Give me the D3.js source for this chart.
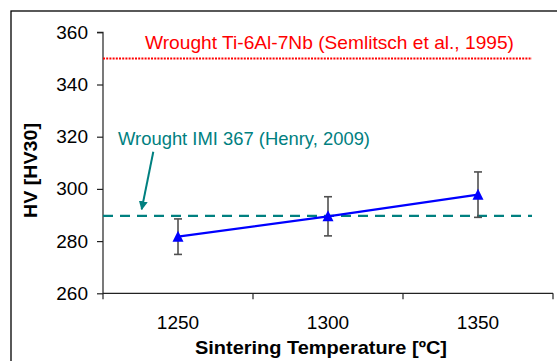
<!DOCTYPE html>
<html><head><meta charset="utf-8">
<script src="https://cdn.jsdelivr.net/npm/d3@7"></script>
<style>
html,body{margin:0;padding:0;background:#fff;}
text{font-family:"Liberation Sans",Arial,sans-serif;}
</style></head>
<body>
<svg id="chart" width="557" height="361"></svg>
<script>
// ---- data ----
const categories = ["1250", "1300", "1350"];
const hvMean = [281.7, 289.5, 297.8];
const hvErr = [6.8, 7.5, 8.7];
const yTicks = [260, 280, 300, 320, 340, 360];
const refTi = 350;      // Wrought Ti-6Al-7Nb (Semlitsch et al., 1995)
const refIMI = 289.7;   // Wrought IMI 367 (Henry, 2009)
const labelTi = "Wrought Ti-6Al-7Nb (Semlitsch et al., 1995)";
const labelIMI = "Wrought IMI 367 (Henry, 2009)";
const xTitle = "Sintering Temperature [ºC]";
const yTitle = "HV [HV30]";

// ---- layout ----
const L = 103, R = 553, T = 32.3, B = 293.3;
const svg = d3.select("#chart");

// outer frame
svg.append("rect").attr("x", 11).attr("y", 11).attr("width", 560).attr("height", 360)
  .attr("fill", "none").attr("stroke", "#000").attr("stroke-width", 1.3);

const x = d3.scaleBand().domain(categories).range([L, R]).padding(0);
const y = d3.scaleLinear().domain([260, 360]).range([B, T]);
const xc = c => x(c) + x.bandwidth() / 2;

// y axis
const yAxis = svg.append("g").attr("transform", `translate(${L},0)`)
  .call(d3.axisLeft(y).tickValues(yTicks).tickSize(6).tickPadding(9).tickFormat(d3.format("d")));
yAxis.select(".domain").attr("stroke", "#222").attr("stroke-width", 1.2).attr("d", `M-6,${T}H0V${B}`);
yAxis.selectAll(".tick line").attr("stroke", "#222").attr("stroke-width", 1.2);
yAxis.selectAll(".tick text").attr("font-size", 19).attr("fill", "#000")
  .style("font-family", "'Liberation Sans',Arial,sans-serif");

// x axis (category axis with ticks at band boundaries)
const xg = svg.append("g");
xg.append("line").attr("x1", L).attr("x2", R).attr("y1", B).attr("y2", B)
  .attr("stroke", "#222").attr("stroke-width", 1.2);
const bounds = categories.map(c => x(c)).concat([x(categories[categories.length - 1]) + x.bandwidth()]);
xg.selectAll("line.tk").data(bounds).enter().append("line").attr("class", "tk")
  .attr("x1", d => d).attr("x2", d => d).attr("y1", B).attr("y2", B + 6)
  .attr("stroke", "#222").attr("stroke-width", 1.2);
xg.selectAll("text").data(categories).enter().append("text")
  .attr("x", d => xc(d)).attr("y", 328.5).attr("text-anchor", "middle")
  .attr("font-size", 19).attr("fill", "#000").text(d => d);

// titles
svg.append("text").attr("x", 195).attr("y", 353.5)
  .attr("font-size", 19).attr("font-weight", "bold")
  .attr("textLength", 252).attr("lengthAdjust", "spacingAndGlyphs").text(xTitle);
svg.append("text").attr("transform", "translate(36.5,218) rotate(-90)")
  .attr("font-size", 19).attr("font-weight", "bold")
  .attr("textLength", 95).attr("lengthAdjust", "spacingAndGlyphs").text(yTitle);

// reference lines
const refEnd = L + x.bandwidth() * 2.86;
svg.append("line").attr("x1", L).attr("x2", refEnd).attr("y1", y(refTi)).attr("y2", y(refTi))
  .attr("stroke", "#ff0000").attr("stroke-width", 2).attr("stroke-dasharray", "2,1.2");
svg.append("line").attr("x1", L).attr("x2", refEnd).attr("y1", y(refIMI)).attr("y2", y(refIMI))
  .attr("stroke", "#008080").attr("stroke-width", 2.3).attr("stroke-dasharray", "10,7");

// reference labels
svg.append("text").attr("x", 145).attr("y", 48.5).attr("font-size", 18.5).attr("fill", "#ff0000")
  .attr("textLength", 369).attr("lengthAdjust", "spacingAndGlyphs").text(labelTi);
svg.append("text").attr("x", 118).attr("y", 144.5).attr("font-size", 18.5).attr("fill", "#008080")
  .attr("textLength", 252).attr("lengthAdjust", "spacingAndGlyphs").text(labelIMI);

// arrow
svg.append("defs").append("marker").attr("id", "ah").attr("viewBox", "0 0 10 10")
  .attr("refX", 9).attr("refY", 5).attr("markerWidth", 4.5).attr("markerHeight", 4.5)
  .attr("orient", "auto").attr("markerUnits", "strokeWidth")
  .append("path").attr("d", "M0,0L10,5L0,10z").attr("fill", "#008080");
svg.append("line").attr("x1", 153.3).attr("y1", 151.7).attr("x2", 141.7).attr("y2", 209.3)
  .attr("stroke", "#008080").attr("stroke-width", 2).attr("marker-end", "url(#ah)");

// error bars
const eg = svg.append("g").attr("stroke", "#505050").attr("stroke-width", 1.6);
categories.forEach((c, i) => {
  const cx = xc(c), hi = y(hvMean[i] + hvErr[i]), lo = y(hvMean[i] - hvErr[i]);
  eg.append("line").attr("x1", cx).attr("x2", cx).attr("y1", hi).attr("y2", lo);
  eg.append("line").attr("x1", cx - 4).attr("x2", cx + 4).attr("y1", hi).attr("y2", hi);
  eg.append("line").attr("x1", cx - 4).attr("x2", cx + 4).attr("y1", lo).attr("y2", lo);
});

// series line
const pts = categories.map((c, i) => [xc(c), y(hvMean[i])]);
svg.append("path").attr("d", d3.line()(pts)).attr("fill", "none")
  .attr("stroke", "#0000ff").attr("stroke-width", 2.2);

// triangle markers
svg.selectAll("path.mk").data(pts).enter().append("path").attr("class", "mk")
  .attr("d", d => `M${d[0]},${d[1] - 6}L${d[0] + 5.5},${d[1] + 5}L${d[0] - 5.5},${d[1] + 5}Z`)
  .attr("fill", "#0000ff");
</script>
</body></html>
